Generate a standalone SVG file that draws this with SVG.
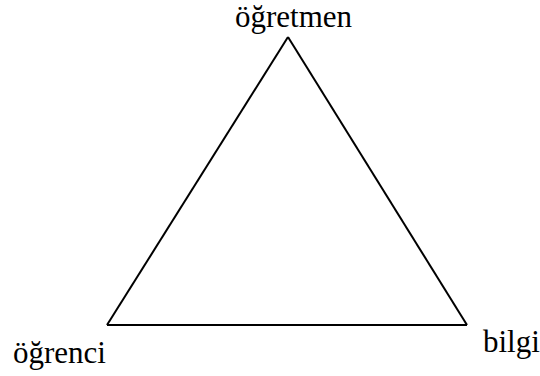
<svg xmlns="http://www.w3.org/2000/svg" width="540" height="376" viewBox="0 0 540 376">
<style>
text{font-family:"Liberation Serif","Times New Roman",serif;font-size:31px;fill:#000}
.edge{fill:none;stroke:#000;stroke-width:2}
</style>
<rect width="540" height="376" fill="#fff"/>
<g id="connectors">
<path class="edge" d="M288,37 L107,325"/>
<path class="edge" d="M288,37 L467,325"/>
<path class="edge" d="M107,325 L467,325"/>
</g>
<g id="ogretmen"><text x="235" y="27">öğretmen</text></g>
<g id="ogrenci"><text x="13" y="363">öğrenci</text></g>
<g id="bilgi"><text x="483" y="352">bilgi</text></g>
</svg>
